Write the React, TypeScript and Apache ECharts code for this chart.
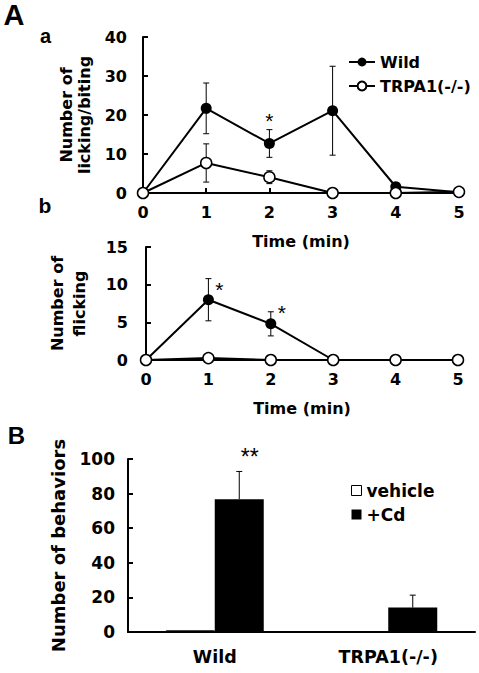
import React, { useEffect, useRef } from "react";
import * as echarts from "echarts";

// ---- data ----
const timeMin = [0, 1, 2, 3, 4, 5];
const lickWild = [0, 21.7, 12.7, 21.1, 1.6, 0.2];
const lickWildSem = [0, 6.5, 3.55, 11.4, 0, 0];
const lickTrpa = [0, 7.7, 4.05, 0, 0, 0.3];
const lickTrpaSem = [0, 4.9, 1.65, 0, 0, 0];
const flickWild = [0, 8.0, 4.8, 0, 0, 0];
const flickWildSem = [0, 2.8, 1.6, 0, 0, 0];
const flickTrpa = [0, 0.25, 0, 0, 0, 0];
const groups = ["Wild", "TRPA1(-/-)"];
const vehicle = [1, 0];
const vehicleSem = [0, 0];
const cd = [76.8, 14.1];
const cdSem = [16, 7.2];
const starLick = [[2, 18.5]];
const starFlick = [[1, 9.3], [2, 6.3]];
const starBehav = [[0, 101.3]];

const FONT = "DejaVu Sans";
const BAR_W = 49;

function errRender(dx: number, cap: number, both: boolean) {
  return (_params: any, api: any) => {
    const x = api.value(0);
    const pLo = api.coord([x, api.value(1)]);
    const pHi = api.coord([x, api.value(2)]);
    const cx = pLo[0] + dx;
    const style = { stroke: "#000", lineWidth: 1, fill: "none" };
    const children: any[] = [
      { type: "line", shape: { x1: cx, y1: pLo[1], x2: cx, y2: pHi[1] }, style },
      { type: "line", shape: { x1: cx - cap, y1: pHi[1], x2: cx + cap, y2: pHi[1] }, style },
    ];
    if (both) children.push({ type: "line", shape: { x1: cx - cap, y1: pLo[1], x2: cx + cap, y2: pLo[1] }, style });
    return { type: "group", children };
  };
}

function starRender(text: string, dx: number, size: number) {
  return (_params: any, api: any) => {
    const p = api.coord([api.value(0), api.value(1)]);
    return {
      type: "text",
      x: p[0] + dx,
      y: p[1],
      style: { text, fontSize: size, fontFamily: "Liberation Sans", fill: "#000", align: "center", verticalAlign: "middle" },
    };
  };
}

const errData = (xs: number[], m: number[], s: number[]) =>
  xs.map((x, i) => [x, m[i] - s[i], m[i] + s[i]]).filter((_d, i) => s[i] > 0);

const axisText = (size: number) => ({ color: "#000", fontFamily: FONT, fontWeight: "bold" as const, fontSize: size });

function valueXAxis(gridIndex: number) {
  return {
    type: "value" as const,
    gridIndex,
    min: 0,
    max: 5,
    interval: 1,
    name: "Time (min)",
    nameLocation: "middle" as const,
    nameGap: 40,
    nameTextStyle: axisText(16),
    axisLine: { lineStyle: { color: "#000", width: 2 } },
    axisTick: { inside: true, length: 5, lineStyle: { color: "#000", width: 2 } },
    axisLabel: { ...axisText(16), margin: 11 },
    splitLine: { show: false },
  };
}

function valueYAxis(gridIndex: number, max: number, interval: number, name: string, nameGap: number, lh: number, size: number, nameSize: number, margin: number) {
  return {
    type: "value" as const,
    gridIndex,
    min: 0,
    max,
    interval,
    name,
    nameLocation: "middle" as const,
    nameGap,
    nameTextStyle: { ...axisText(nameSize), lineHeight: lh },
    axisLine: { show: true, lineStyle: { color: "#000", width: 2 } },
    axisTick: { show: true, inside: true, length: 5, lineStyle: { color: "#000", width: 2 } },
    axisLabel: { ...axisText(size), margin },
    splitLine: { show: false },
  };
}

export default function App() {
  const ref = useRef<HTMLDivElement>(null);
  useEffect(() => {
    if (!ref.current) return;
    const chart = echarts.init(ref.current, null, { renderer: "svg" });
    const openSym = { color: "#fff", borderColor: "#000", borderWidth: 1.5 };
    chart.setOption({
      animation: false,
      backgroundColor: "#fff",
      grid: [
        { left: 143, top: 37, width: 316, height: 156 },
        { left: 146, top: 247, width: 312, height: 113 },
        { left: 128, top: 459, width: 347, height: 173 },
      ],
      xAxis: [
        valueXAxis(0),
        valueXAxis(1),
        {
          type: "category",
          gridIndex: 2,
          data: groups,
          axisLine: { lineStyle: { color: "#000", width: 2 } },
          axisTick: { show: false },
          axisLabel: { ...axisText(17.5), margin: 16 },
        },
      ],
      yAxis: [
        valueYAxis(0, 40, 10, "Number of\nlicking/biting", 50, 18, 16, 16, 16),
        valueYAxis(1, 15, 5, "Number of\nflicking", 56, 22, 16, 16, 18),
        valueYAxis(2, 100, 20, "Number of behaviors", 55, 20, 17, 18, 13),
      ],
      legend: [
        {
          left: 343,
          top: 49,
          orient: "vertical",
          itemWidth: 26,
          itemHeight: 11,
          itemGap: 8,
          textStyle: axisText(16),
          data: ["Wild", "TRPA1(-/-)"],
        },
        {
          left: 346,
          top: 477,
          orient: "vertical",
          itemWidth: 10,
          itemHeight: 10,
          itemGap: 7,
          textStyle: axisText(17),
          data: [
            { name: "vehicle", icon: "rect", itemStyle: { color: "#fff", borderColor: "#000", borderWidth: 1 } },
            { name: "+Cd", icon: "rect", itemStyle: { color: "#000" } },
          ],
        },
      ],
      graphic: [
        { type: "text", x: 14, y: 15, style: { text: "A", fontSize: 29, fontWeight: "bold", fontFamily: "Liberation Sans", fill: "#000", align: "center", verticalAlign: "middle" } },
        { type: "text", x: 45.5, y: 35.5, style: { text: "a", fontSize: 20, fontWeight: "bold", fontFamily: "Liberation Sans", fill: "#000", align: "center", verticalAlign: "middle" } },
        { type: "text", x: 45, y: 205.5, style: { text: "b", fontSize: 21, fontWeight: "bold", fontFamily: "Liberation Sans", fill: "#000", align: "center", verticalAlign: "middle" } },
        { type: "text", x: 16.5, y: 435, style: { text: "B", fontSize: 24, fontWeight: "bold", fontFamily: "Liberation Sans", fill: "#000", align: "center", verticalAlign: "middle" } },
      ],
      series: [
        // panel a
        { type: "custom", xAxisIndex: 0, yAxisIndex: 0, z: 1, silent: true, renderItem: errRender(0, 3, true), data: errData(timeMin, lickWild, lickWildSem) },
        { type: "custom", xAxisIndex: 0, yAxisIndex: 0, z: 1, silent: true, renderItem: errRender(0, 3, true), data: errData(timeMin, lickTrpa, lickTrpaSem) },
        {
          name: "Wild", type: "line", xAxisIndex: 0, yAxisIndex: 0, z: 3,
          data: timeMin.map((t, i) => [t, lickWild[i]]),
          symbol: "circle", symbolSize: 11,
          itemStyle: { color: "#000" }, lineStyle: { color: "#000", width: 2 },
        },
        {
          name: "TRPA1(-/-)", type: "line", xAxisIndex: 0, yAxisIndex: 0, z: 4,
          data: timeMin.map((t, i) => [t, lickTrpa[i]]),
          symbol: "circle", symbolSize: 11,
          itemStyle: openSym, lineStyle: { color: "#000", width: 2 },
        },
        { type: "custom", xAxisIndex: 0, yAxisIndex: 0, z: 5, silent: true, renderItem: starRender("*", 0, 21), data: starLick },
        // panel b
        { type: "custom", xAxisIndex: 1, yAxisIndex: 1, z: 1, silent: true, renderItem: errRender(0, 3, true), data: errData(timeMin, flickWild, flickWildSem) },
        {
          name: "Wild", type: "line", xAxisIndex: 1, yAxisIndex: 1, z: 3,
          data: timeMin.map((t, i) => [t, flickWild[i]]),
          symbol: "circle", symbolSize: 11,
          itemStyle: { color: "#000" }, lineStyle: { color: "#000", width: 2 },
        },
        {
          name: "TRPA1(-/-)", type: "line", xAxisIndex: 1, yAxisIndex: 1, z: 4,
          data: timeMin.map((t, i) => [t, flickTrpa[i]]),
          symbol: "circle", symbolSize: 11,
          itemStyle: openSym, lineStyle: { color: "#000", width: 2 },
        },
        { type: "custom", xAxisIndex: 1, yAxisIndex: 1, z: 5, silent: true, renderItem: starRender("*", 11, 21), data: starFlick },
        // panel B
        {
          name: "vehicle", type: "bar", xAxisIndex: 2, yAxisIndex: 2,
          data: vehicle, barWidth: BAR_W, barGap: "0%",
          itemStyle: { color: "#fff", borderColor: "#000", borderWidth: 1 },
        },
        {
          name: "+Cd", type: "bar", xAxisIndex: 2, yAxisIndex: 2,
          data: cd, barWidth: BAR_W, barGap: "0%",
          itemStyle: { color: "#000" },
        },
        {
          type: "custom", xAxisIndex: 2, yAxisIndex: 2, z: 3, silent: true,
          renderItem: errRender(BAR_W / 2, 3, false),
          data: groups.map((_g, i) => [i, cd[i], cd[i] + cdSem[i]]),
        },
        {
          type: "custom", xAxisIndex: 2, yAxisIndex: 2, z: 3, silent: true,
          renderItem: errRender(-BAR_W / 2, 3, false),
          data: groups.map((_g, i) => [i, vehicle[i], vehicle[i] + vehicleSem[i]]).filter((_d, i) => vehicleSem[i] > 0),
        },
        { type: "custom", xAxisIndex: 2, yAxisIndex: 2, z: 5, silent: true, renderItem: starRender("**", 35, 23), data: starBehav },
      ],
    });
    return () => chart.dispose();
  }, []);
  return <div ref={ref} style={{ position: "fixed", left: 0, top: 0, width: 479, height: 673, background: "#fff" }} />;
}
